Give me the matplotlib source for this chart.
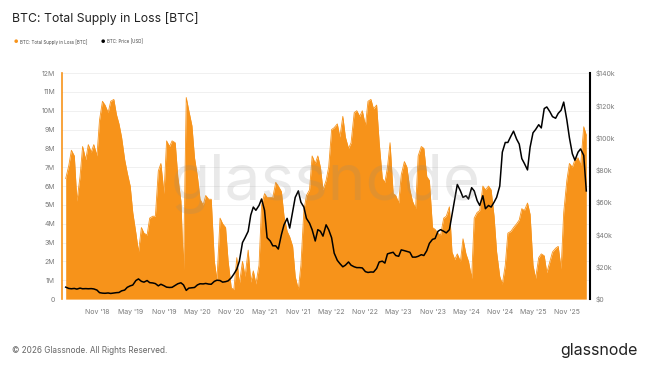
import matplotlib
matplotlib.use("Agg")
import matplotlib.pyplot as plt
import pandas as pd

plt.rcParams["font.family"] = ["Inter", "DejaVu Sans"]

ORANGE = "#f7931a"
GREY = "#7a7a7a"

# semi-monthly samples (1st / 15th)
START = "2018-05-15"
supply_m = [
    6.4, 7.1, 7.9, 7.6, 5.2, 6.5, 8.1, 7.4, 8.2, 7.8,
    8.2, 7.6, 9.5, 10.5, 10.3, 9.9, 10.5, 10.6, 9.8, 9.3,
    8.6, 7.4, 6.7, 6.0, 4.6, 3.5, 2.5, 3.8, 3.5, 3.4,
    4.3, 4.4, 4.4, 6.8, 7.2, 5.6, 8.4, 8.1, 8.4, 8.3,
    6.5, 5.2, 1.5, 10.7, 10.0, 9.2, 7.5, 6.5, 5.3, 5.0,
    5.5, 5.3, 5.3, 2.0, 1.0, 4.3, 4.0, 3.8, 2.0, 0.6,
    0.5, 2.2, 0.8, 2.0, 1.2, 2.6, 0.9, 1.5, 0.8, 1.8,
    5.0, 5.6, 5.4, 5.4, 5.4, 6.2, 6.0, 5.7, 4.4, 3.6,
    3.3, 2.8, 1.2, 0.5, 1.8, 4.7, 5.5, 5.8, 7.6, 7.2,
    7.6, 7.0, 5.8, 6.3, 7.0, 9.0, 9.1, 9.3, 8.6, 9.7,
    8.6, 8.0, 8.3, 9.9, 10.0, 9.7, 10.0, 9.2, 10.5, 10.6,
    10.1, 10.3, 8.3, 6.4, 6.2, 7.0, 8.3, 5.6, 5.5, 5.1,
    6.6, 7.3, 7.0, 5.8, 5.2, 4.8, 7.6, 8.1, 8.0, 6.5,
    6.3, 3.8, 3.7, 3.5, 3.4, 4.3, 4.4, 4.9, 2.5, 2.1,
    2.4, 2.0, 3.2, 2.4, 2.0, 1.1, 4.3, 4.6, 4.7, 6.0,
    5.8, 6.0, 5.8, 4.4, 2.5, 1.2, 0.8, 1.8, 3.5, 3.6,
    3.8, 4.0, 4.2, 4.8, 4.7, 5.1, 4.5, 1.8, 1.1, 2.2,
    2.4, 2.3, 1.4, 2.0, 2.5, 2.7, 2.8, 1.6, 4.6, 6.3,
    7.2, 7.0, 7.4, 7.5, 7.1, 9.15, 8.7,
]
price_k = [
    7.4, 6.6, 6.4, 6.6, 6.2, 6.8, 6.4, 6.5, 6.4, 6.5,
    6.3, 5.6, 4.0, 3.7, 3.6, 3.8, 3.5, 3.8, 4.0, 4.1,
    5.1, 5.6, 7.3, 8.2, 8.7, 11.5, 12.5, 11.0, 10.5, 11.5,
    10.2, 10.0, 9.6, 8.2, 9.2, 8.3, 7.4, 7.2, 7.3, 8.5,
    9.5, 10.1, 8.8, 5.4, 6.8, 7.0, 7.2, 8.8, 9.5, 9.4,
    9.7, 9.3, 9.2, 11.0, 11.7, 11.5, 10.5, 10.8, 11.3, 13.2,
    15.5, 18.5, 23.5, 35, 38, 42, 52, 57, 55, 58,
    62, 55, 38, 36, 33, 33, 31, 40, 46, 50,
    44, 54, 63, 67, 60, 57, 50, 47, 43, 36,
    43, 42, 39, 46, 43, 38, 28.5, 24, 22, 20,
    21, 23, 21, 20, 19.5, 19.5, 19.3, 17, 16.5, 16.8,
    16.7, 19, 23, 23.5, 22.3, 28, 28.5, 29, 27, 26.5,
    30.5, 30, 29.5, 29, 26, 26, 26.5, 27.5, 27, 30,
    34.5, 37, 37.5, 42, 43, 42, 41, 43, 52, 62,
    71, 67, 63, 64, 62, 69, 67, 61, 58, 64,
    56, 58, 57, 60, 63, 70, 91, 97, 97, 101,
    104, 99, 96, 87, 84, 80, 94, 103, 105, 108,
    106, 118, 119, 116, 113, 112, 115, 117, 122, 111,
    100, 90, 86, 91, 93, 89, 67,
]
supply_ticks = list(range(0, 13))
price_ticks = list(range(0, 141, 20))
tick_dates = pd.date_range("2018-11-01", "2025-11-01", freq="6MS")


def main():
    dates = pd.date_range(START, periods=len(supply_m), freq="SMS")
    supply = [v * 1e6 for v in supply_m]
    price = [v * 1e3 for v in price_k]

    fig = plt.figure(figsize=(6.46, 3.67), dpi=100)
    ax = fig.add_axes([0.096, 0.185, 0.817, 0.616])

    ax.fill_between(dates, supply, 0, color=ORANGE, lw=0)
    ax.plot(dates, supply, color=ORANGE, lw=0.6)
    ax.set_ylim(0, 12e6)
    ax.set_yticks([t * 1e6 for t in supply_ticks])
    ax.set_yticklabels([f"{t}M" if t else "0" for t in supply_ticks])
    ax.grid(axis="y", color="#eeeeee", lw=0.6)
    ax.set_axisbelow(True)

    ax2 = ax.twinx()
    ax2.plot(dates, price, color="black", lw=1.1)
    ax2.set_ylim(0, 140e3)
    ax2.set_yticks([t * 1e3 for t in price_ticks])
    ax2.set_yticklabels([f"${t}k" if t else "$0" for t in price_ticks])

    ax.set_xlim(pd.Timestamp("2018-04-25"), pd.Timestamp("2026-03-06"))
    ax.set_xticks(tick_dates)
    ax.set_xticklabels([d.strftime("%b '%y") for d in tick_dates])

    for a in (ax, ax2):
        for s in ("top", "bottom", "left", "right"):
            a.spines[s].set_visible(False)
        a.tick_params(length=0, labelsize=5, labelcolor=GREY)
    ax.spines["left"].set_visible(True)
    ax.spines["left"].set_color(ORANGE)
    ax.spines["left"].set_linewidth(1.2)
    ax2.spines["right"].set_visible(True)
    ax2.spines["right"].set_color("black")
    ax2.spines["right"].set_linewidth(1.5)
    ax.tick_params(axis="y", pad=5)
    ax2.tick_params(axis="y", pad=4)
    ax.tick_params(axis="x", pad=7)

    # watermark
    fig.text(0.505, 0.50, "glassnode", fontsize=46, color="#888888",
             alpha=0.18, ha="center", va="center", zorder=10)

    fig.text(0.019, 0.95, "BTC: Total Supply in Loss [BTC]", fontsize=8.8,
             color="#222222", ha="left", va="center")
    fig.text(0.025, 0.886, "\u25cf", fontsize=3.5, color=ORANGE,
             ha="center", va="center")
    fig.text(0.031, 0.886, "BTC: Total Supply in Loss [BTC]", fontsize=3.2,
             color="#444444", ha="left", va="center")
    fig.text(0.160, 0.886, "\u25cf", fontsize=3.5, color="black",
             ha="center", va="center")
    fig.text(0.165, 0.886, "BTC: Price [USD]", fontsize=3.2,
             color="#444444", ha="left", va="center")

    fig.text(0.019, 0.046, "\u00a9 2026 Glassnode. All Rights Reserved.",
             fontsize=5.9, color="#666666", ha="left", va="center")
    fig.text(0.987, 0.046, "glassnode", fontsize=11.5, color="#222222",
             ha="right", va="center")

    fig.savefig("out.png", dpi=100, facecolor="white")


if __name__ == "__main__":
    main()
